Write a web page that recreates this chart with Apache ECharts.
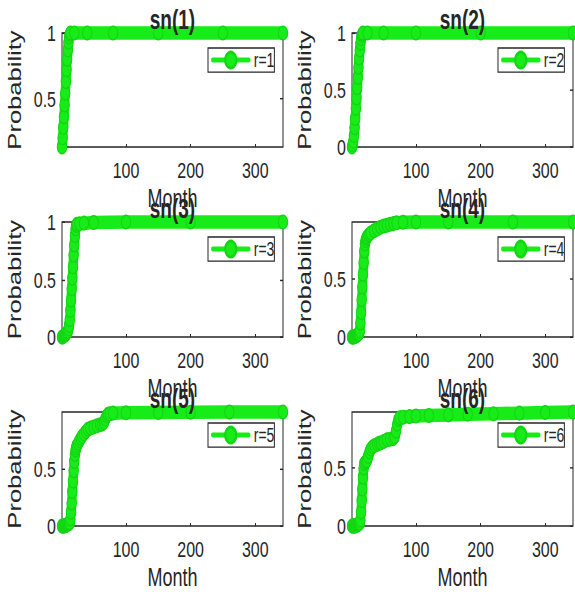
<!DOCTYPE html>
<html>
<head>
<meta charset="utf-8">
<script src="https://cdn.jsdelivr.net/npm/echarts@6/dist/echarts.min.js"></script>
<style>
  html, body { margin: 0; padding: 0; background: #fff; overflow: hidden; }
  #wrap { width: 575px; height: 594px; overflow: hidden; }
  #chart { width: 575px; transform-origin: 0 0; }
</style>
</head>
<body>
<div id="wrap"><div id="chart"></div></div>
<script>
// ---- data -------------------------------------------------------------
const panelTitles = ['sn(1)', 'sn(2)', 'sn(3)', 'sn(4)', 'sn(5)', 'sn(6)'];
const seriesNames = ['r=1', 'r=2', 'r=3', 'r=4', 'r=5', 'r=6'];
const monthTicks = [100, 200, 300];
const probTicks = [0, 0.5, 1];

const months1 = [1,2,3,4,5,6,7,8,9,10,11,12,13,14,20,40,80,150,250,343];
const prob1   = [0.13,0.20,0.28,0.36,0.45,0.54,0.63,0.72,0.80,0.87,0.93,0.97,0.99,1,1,1,1,1,1,1];

const months2 = [1,2,3,4,5,6,7,8,9,10,11,12,13,14,15,16,17,18,25,50,100,200,343];
const prob2   = [0,0.02,0.05,0.10,0.17,0.25,0.34,0.43,0.52,0.61,0.70,0.78,0.85,0.91,0.95,0.98,0.99,1,1,1,1,1,1];

const months3 = [1,2,3,4,5,6,7,8,9,10,11,12,13,14,15,16,17,18,19,20,21,22,23,24,28,35,50,100,200,343];
const prob3   = [0,0,0.005,0.01,0.015,0.02,0.025,0.03,0.04,0.05,0.07,0.10,0.15,0.23,0.32,0.42,0.51,0.61,0.71,0.80,0.88,0.94,0.97,0.98,0.985,0.99,0.995,1,1,1];

const months4 = [1,2,3,4,5,6,7,8,9,10,11,12,13,14,15,16,17,18,19,20,21,22,23,24,26,28,30,35,40,45,50,55,60,65,70,80,100,150,250,343];
const prob4   = [0,0,0,0,0.005,0.005,0.01,0.01,0.015,0.02,0.025,0.03,0.05,0.12,0.21,0.32,0.43,0.54,0.64,0.74,0.80,0.83,0.85,0.86,0.875,0.885,0.895,0.915,0.93,0.945,0.955,0.962,0.97,0.976,0.983,0.988,0.99,0.99,0.99,0.99];

const months5 = [1,2,3,4,5,6,7,8,9,10,11,12,13,14,15,16,17,18,19,20,21,22,23,24,26,28,30,32,35,38,41,45,50,55,60,63,66,68,70,72,75,80,100,150,200,260,343];
const prob5   = [0,0,0,0,0,0.005,0.005,0.01,0.01,0.015,0.02,0.02,0.03,0.06,0.12,0.20,0.30,0.39,0.48,0.56,0.62,0.66,0.68,0.70,0.72,0.74,0.76,0.78,0.80,0.82,0.84,0.85,0.86,0.87,0.88,0.885,0.90,0.93,0.955,0.97,0.975,0.98,0.983,0.986,0.988,0.99,0.99];

const months6 = [1,2,3,4,5,6,7,8,9,10,11,12,13,14,15,16,17,18,19,20,22,24,26,28,30,33,36,40,43,46,50,55,60,65,67,69,71,73,75,80,90,100,120,150,180,220,260,300,343];
const prob6   = [0,0,0,0,0,0,0.005,0.005,0.01,0.01,0.015,0.02,0.025,0.05,0.12,0.22,0.32,0.42,0.50,0.54,0.555,0.565,0.60,0.64,0.665,0.685,0.695,0.705,0.715,0.72,0.73,0.745,0.75,0.755,0.77,0.82,0.88,0.92,0.935,0.94,0.945,0.95,0.955,0.96,0.965,0.97,0.975,0.98,0.985];

const monthSets = [months1, months2, months3, months4, months5, months6];
const probSets  = [prob1, prob2, prob3, prob4, prob5, prob6];

// ---- layout -----------------------------------------------------------
// The figure is laid out in a compressed vertical space and stretched back
// with a CSS scale, which gives the tall glyphs and oval markers.
const SY = 1.42;
const FIG_H = 594;
const py = v => v / SY;

const colLeft = [62, 352];
const boxW = 221;
const rowTop = [33, 222, 412];
const rowH = [114, 115, 114];
const legLeft = [208, 498];
const legTop = [48, 237, 423];

const GREEN = '#18ec18';
const GREEN_EDGE = '#14d414';
const INK = '#262626';
const FONT = '"Liberation Sans", Arial, Helvetica, sans-serif';

const chartEl = document.getElementById('chart');
chartEl.style.height = (FIG_H / SY) + 'px';
chartEl.style.transform = 'scaleY(' + SY + ')';

const grid = [], xAxis = [], yAxis = [], series = [], title = [], legend = [];

for (let i = 0; i < 6; i++) {
  const c = i % 2, r = Math.floor(i / 2);
  const months = monthSets[i], probs = probSets[i];
  const xMin = Math.min(...months), xMax = Math.max(...months);
  const yMin = Math.min(...probs), yMax = Math.max(...probs);
  const yVals = probTicks.filter(v => v >= yMin - 1e-9 && v <= yMax + 1e-9);

  grid.push({
    left: colLeft[c], top: py(rowTop[r]), width: boxW, height: py(rowH[r]),
    show: true, borderColor: INK, borderWidth: 1, backgroundColor: 'transparent'
  });

  xAxis.push({
    type: 'value', gridIndex: i, min: xMin, max: xMax,
    axisLine: { show: false },
    axisTick: { show: true, inside: true, length: py(3), customValues: monthTicks,
                lineStyle: { color: INK, width: 1 } },
    axisLabel: { customValues: monthTicks, fontSize: 16, color: INK, margin: 8, fontFamily: FONT },
    splitLine: { show: false },
    name: 'Month', nameLocation: 'middle', nameGap: 27,
    nameTextStyle: { fontSize: 18, color: INK, fontFamily: FONT }
  });

  yAxis.push({
    type: 'value', gridIndex: i, position: 'left', min: yMin, max: yMax,
    axisLine: { show: false },
    axisTick: { show: true, inside: true, length: 3, customValues: yVals,
                lineStyle: { color: INK, width: 1 } },
    axisLabel: { customValues: yVals, fontSize: 16, color: INK, margin: 6, fontFamily: FONT },
    splitLine: { show: false },
    name: 'Probability', nameLocation: 'middle', nameGap: 38,
    nameTextStyle: { fontSize: 18, color: INK, fontFamily: FONT }
  });
  yAxis.push({
    type: 'value', gridIndex: i, position: 'right', min: yMin, max: yMax,
    axisLine: { show: false },
    axisTick: { show: true, inside: true, length: 3, customValues: yVals,
                lineStyle: { color: INK, width: 1 } },
    axisLabel: { show: false },
    splitLine: { show: false }
  });

  series.push({
    type: 'line', name: seriesNames[i],
    xAxisIndex: i, yAxisIndex: 2 * i,
    data: months.map((m, k) => [m, probs[k]]),
    symbol: 'circle', symbolSize: 9.5, showSymbol: true,
    clip: false,
    lineStyle: { width: 9.5, color: GREEN, cap: 'round', join: 'round' },
    itemStyle: { color: GREEN, borderColor: GREEN_EDGE, borderWidth: 1 },
    emphasis: { disabled: true },
    z: 3
  });

  title.push({
    text: panelTitles[i],
    left: colLeft[c] + boxW / 2,
    top: py(rowTop[r] - 13) - 9.5,
    textAlign: 'center',
    padding: 0,
    textStyle: { fontSize: 19, fontWeight: 'bold', color: INK, fontFamily: FONT }
  });

  legend.push({
    data: [seriesNames[i]],
    left: legLeft[c], top: py(legTop[r]),
    orient: 'horizontal',
    padding: [1.5, 0, 1.5, 3],
    itemWidth: 36, itemHeight: 14, itemGap: 0,
    backgroundColor: '#fff', borderColor: INK, borderWidth: 1, borderRadius: 0,
    selectedMode: false,
    lineStyle: { width: 3.5 },
    textStyle: { fontSize: 14, color: INK, fontFamily: FONT },
    z: 10
  });
}

const chart = echarts.init(chartEl, null, { renderer: 'svg' });
chart.setOption({
  animation: false,
  backgroundColor: '#fff',
  textStyle: { fontFamily: FONT },
  title, legend, grid, xAxis, yAxis, series
});
</script>
</body>
</html>
